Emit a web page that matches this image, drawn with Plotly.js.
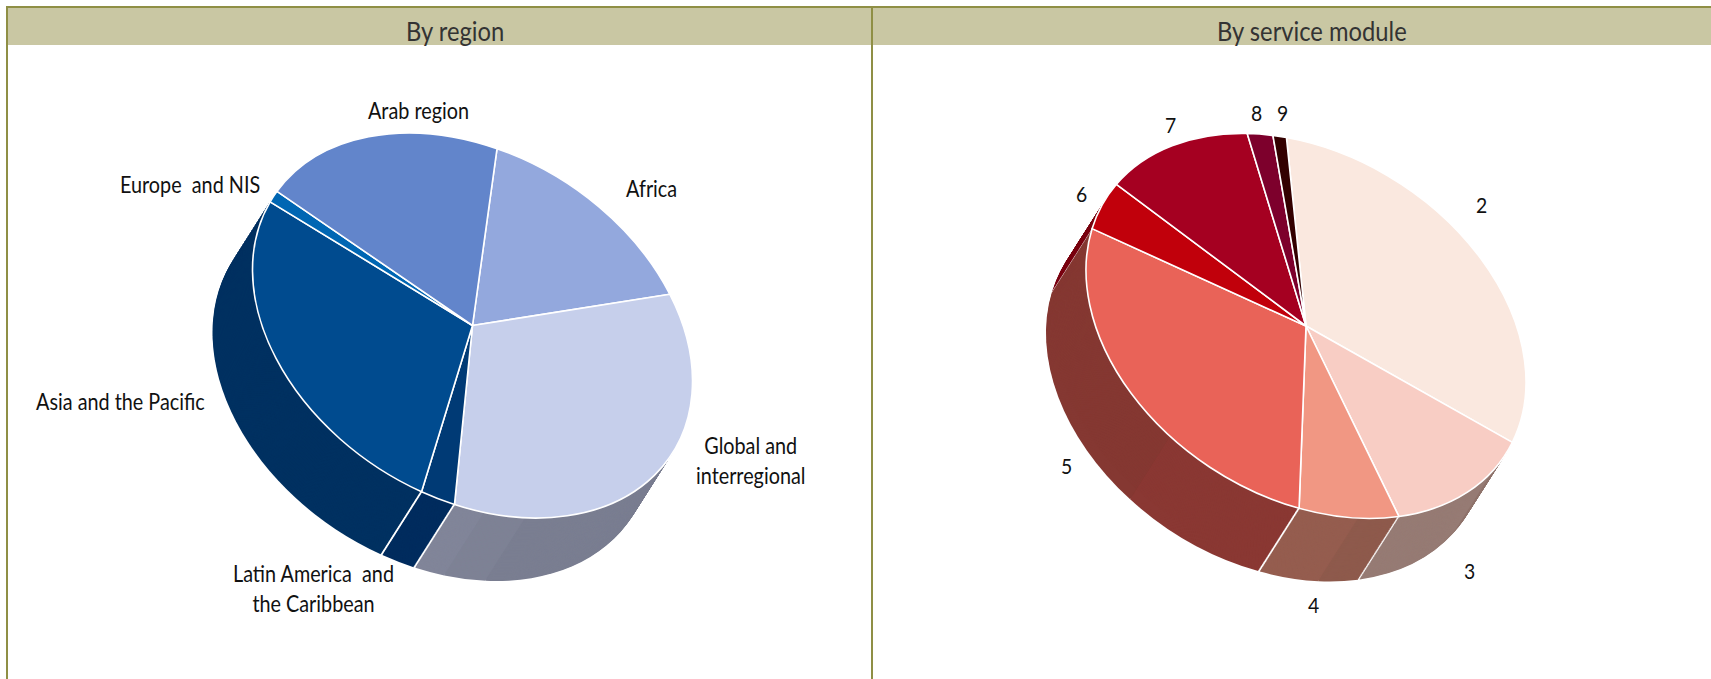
<!DOCTYPE html>
<html><head><meta charset="utf-8">
<script src="https://cdn.plot.ly/plotly-3.0.1.min.js"></script>
<style>html,body{margin:0;padding:0;background:#fff;overflow:hidden}#chart{width:1711px;height:679px}
.annotation-text{transform-box:fill-box;transform-origin:center;transform:scaleX(.88)}</style>
</head><body><div id="chart"></div>
<script>
// ---- data: slice sizes in degrees of the un-tilted circle
const regionLabels = ["Africa","Global and interregional","Latin America and the Caribbean","Asia and the Pacific","Europe and NIS","Arab region"];
const regionValues = [57.4,120.9,8.7,99.7,4.2,69.1];
const regionColors = ["#93a8dd","#c6cfeb","#003a75","#004b8f","#0066b3","#6285cb"];
const regionWalls  = ["#6f7a96","#7a7e91","#002c5e","#003161","#003161","#3f5a8f"];
const regionStart  = 6.4;
// tone changes on the side wall: [slice index, fraction along slice, tone]
const regionShades = [[1,0.844,"#7e8295"],[1,0.934,"#818599"]];
const moduleLabels = ["2","3","4","5","6","7","8","9"];
const moduleValues = [115.4,44.7,26.8,101.7,17,44,6.85,3.55];
const moduleColors = ["#fae8df","#f8cdc4","#f19783","#e96358","#c1000b","#a50021","#7d002c","#330000"];
const moduleWalls  = ["#a09088","#8f736b","#8e5a4c","#8a3833","#7a0010","#6a0018","#50001c","#200000"];
const moduleStart  = -5.1;
const moduleShades = [[1,0.25,"#967b74"],[2,0.41,"#955d4f"],[3,0.356,"#853832"]];
const panelTitles  = ["By region","By service module"];
const regionText = ["Arab region","Europe  and NIS","Africa","Asia and the Pacific","Global and<br>interregional","Latin America  and<br>the Caribbean"];
const regionTextX = [418,190,651,120,750,313];
const regionTextY = [111,185,189,402,460,588];
const moduleTextX = [1481,1469,1313,1066,1081,1170,1256,1282];
const moduleTextY = [204,570,604,465,193,124,113,113];

// ---- geometry of the tilted disc
const W=1711,H=679;
const tilt={a:220,b:55.9,c:184.2}, depth={x:-40,y:63}, LAYERS=74, GAP=0.45, R=190;
const px=x=>x/W, py=y=>1-y/H;
const panels=[{cx:472.5,cy:325.5,vals:regionValues,cols:regionColors,walls:regionWalls,shades:regionShades,start:regionStart,labels:regionLabels},
              {cx:1306,cy:326,vals:moduleValues,cols:moduleColors,walls:moduleWalls,shades:moduleShades,start:moduleStart,labels:moduleLabels}];
const traces=[], placed=[];
panels.forEach(p=>{
  const domain={x:[px(p.cx-R),px(p.cx+R)],y:[py(p.cy+R),py(p.cy-R)]};
  const v=[],c=[];
  p.vals.forEach((d,i)=>{
    const bands=p.shades.filter(s=>s[0]===i);
    let done=0, tone=p.walls[i];
    bands.forEach(s=>{v.push(d*s[1]-done);c.push(tone);done=d*s[1];tone=s[2];});
    v.push(d-done-GAP,GAP);c.push(tone,"#ffffff");
  });
  for(let k=LAYERS;k>=1;k--){
    traces.push({type:"pie",values:v,sort:false,direction:"clockwise",rotation:p.start+GAP/2,domain,
      marker:{colors:c,line:{width:0}},textinfo:"none",hoverinfo:"skip",showlegend:false});
    placed.push({p,k});
  }
  traces.push({type:"pie",labels:p.labels,values:p.vals,sort:false,direction:"clockwise",rotation:p.start,domain,
    marker:{colors:p.cols,line:{color:"#ffffff",width:1.6}},textinfo:"none",hoverinfo:"skip",showlegend:false});
  placed.push({p,k:0});
});
const TXT="Lato,'Liberation Sans',sans-serif";
const ann=[];
const note=(t,x,y,s,col)=>ann.push({text:t,x:px(x),y:py(y),xref:"paper",yref:"paper",showarrow:false,xanchor:"center",yanchor:"middle",align:"center",font:{family:TXT,size:s,color:col||"#111"}});
regionText.forEach((t,i)=>note(t,regionTextX[i],regionTextY[i],22.5));
moduleLabels.forEach((t,i)=>note(t,moduleTextX[i],moduleTextY[i],22));
note(panelTitles[0],455,30,27,"#333");note(panelTitles[1],1312,30,27,"#333");
const OL="#8f8f45";
const rect=(x0,y0,x1,y1,fill)=>({type:"rect",xref:"paper",yref:"paper",x0:px(x0),x1:px(x1),y0:py(y0),y1:py(y1),fillcolor:fill,line:{width:0},layer:"below"});
const shapes=[rect(6,8,1711,45,"#c9c7a3"),rect(6,6,1711,8,OL),rect(6,6,8,679,OL),rect(871,6,873,679,OL)];
Plotly.newPlot("chart",traces,{width:W,height:H,margin:{l:0,r:0,t:0,b:0,pad:0},paper_bgcolor:"#fff",plot_bgcolor:"#fff",showlegend:false,annotations:ann,shapes},{staticPlot:true,displayModeBar:false}).then(gd=>{
  const groups=gd.querySelectorAll(".pielayer .trace");
  groups.forEach((g,i)=>{
    const {p,k}=placed[i];
    const sx=tilt.a/R, bx=tilt.b/R, cy=tilt.c/R, t=k/LAYERS;
    const e=p.cx+t*depth.x-(sx*p.cx), f=p.cy+t*depth.y-(bx*p.cx+cy*p.cy);
    g.setAttribute("transform",`matrix(${sx},${bx},0,${cy},${e},${f})`);
    g.querySelectorAll("path").forEach(s=>s.style.vectorEffect="non-scaling-stroke");
  });
});
</script></body></html>
